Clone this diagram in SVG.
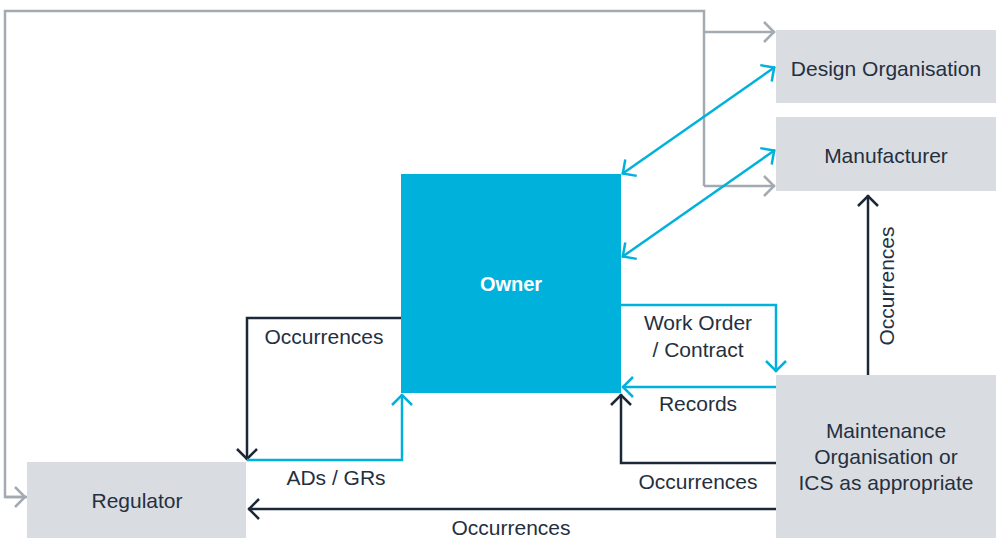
<svg xmlns="http://www.w3.org/2000/svg" width="1001" height="538" viewBox="0 0 1001 538">
<defs>
<style>
.box{fill:#d9dde1}
.t{font-family:"Liberation Sans",Arial,sans-serif;font-size:21px;fill:#25303f;text-anchor:middle}
.g{fill:none;stroke:#a3aab1;stroke-width:2.5}
.c{fill:none;stroke:#00b2db;stroke-width:2.5}
.d{fill:none;stroke:#1c2838;stroke-width:2.5}
</style>
<marker id="ag" markerUnits="userSpaceOnUse" markerWidth="14" markerHeight="24" refX="11" refY="10" orient="auto-start-reverse" viewBox="-2 -2 14 24"><path d="M0,0 L10,10 L0,20" fill="none" stroke="#a3aab1" stroke-width="2.5"/></marker>
<marker id="ac" markerUnits="userSpaceOnUse" markerWidth="14" markerHeight="24" refX="11" refY="10" orient="auto-start-reverse" viewBox="-2 -2 14 24"><path d="M0,0 L10,10 L0,20" fill="none" stroke="#00b2db" stroke-width="2.5"/></marker>
<marker id="ad" markerUnits="userSpaceOnUse" markerWidth="14" markerHeight="24" refX="11" refY="10" orient="auto-start-reverse" viewBox="-2 -2 14 24"><path d="M0,0 L10,10 L0,20" fill="none" stroke="#1c2838" stroke-width="2.5"/></marker>
</defs>
<rect width="1001" height="538" fill="#ffffff"/>
<g id="connectors">
<path class="g" d="M27,497 H5 V11 H704 V186"/>
<path class="g" d="M704,32 H775" marker-end="url(#ag)"/>
<path class="g" d="M704,186 H775" marker-end="url(#ag)"/>
<path class="g" d="M5,497 H26" marker-end="url(#ag)"/>
<path class="c" d="M622,174 L775,67" marker-start="url(#ac)" marker-end="url(#ac)"/>
<path class="c" d="M622,257 L775,150" marker-start="url(#ac)" marker-end="url(#ac)"/>
<path class="d" d="M868,375 V195" marker-end="url(#ad)"/>
<path class="c" d="M621,305 H776 V372" marker-end="url(#ac)"/>
<path class="c" d="M776,387 H622" marker-end="url(#ac)"/>
<path class="d" d="M776,463 H621 V394" marker-end="url(#ad)"/>
<path class="d" d="M401,318 H247 V460" marker-end="url(#ad)"/>
<path class="c" d="M247,460 H402 V394" marker-end="url(#ac)"/>
<path class="d" d="M776,509 H248" marker-end="url(#ad)"/>
<text class="t" x="324" y="344">Occurrences</text>
<text class="t" x="336" y="485">ADs / GRs</text>
<text class="t" x="511" y="535">Occurrences</text>
<text class="t" x="698" y="330">Work Order</text>
<text class="t" x="698" y="357">/ Contract</text>
<text class="t" x="698" y="411">Records</text>
<text class="t" x="698" y="489">Occurrences</text>
<text class="t" transform="translate(894,286) rotate(-90)">Occurrences</text>
</g>
<g id="design"><rect class="box" x="776" y="30" width="220" height="73"/><text class="t" x="886" y="76">Design Organisation</text></g>
<g id="manufacturer"><rect class="box" x="776" y="117" width="220" height="74"/><text class="t" x="886" y="163">Manufacturer</text></g>
<g id="owner"><rect x="401" y="174" width="220" height="219" fill="#00b2db"/><text class="t" x="511" y="291" style="fill:#ffffff;font-weight:bold;font-size:20px">Owner</text></g>
<g id="maintenance"><rect class="box" x="776" y="375" width="220" height="163"/><text class="t" x="886" y="438">Maintenance</text><text class="t" x="886" y="464">Organisation or</text><text class="t" x="886" y="490">ICS as appropriate</text></g>
<g id="regulator"><rect class="box" x="27" y="462" width="219" height="76"/><text class="t" x="137" y="508">Regulator</text></g>
</svg>
